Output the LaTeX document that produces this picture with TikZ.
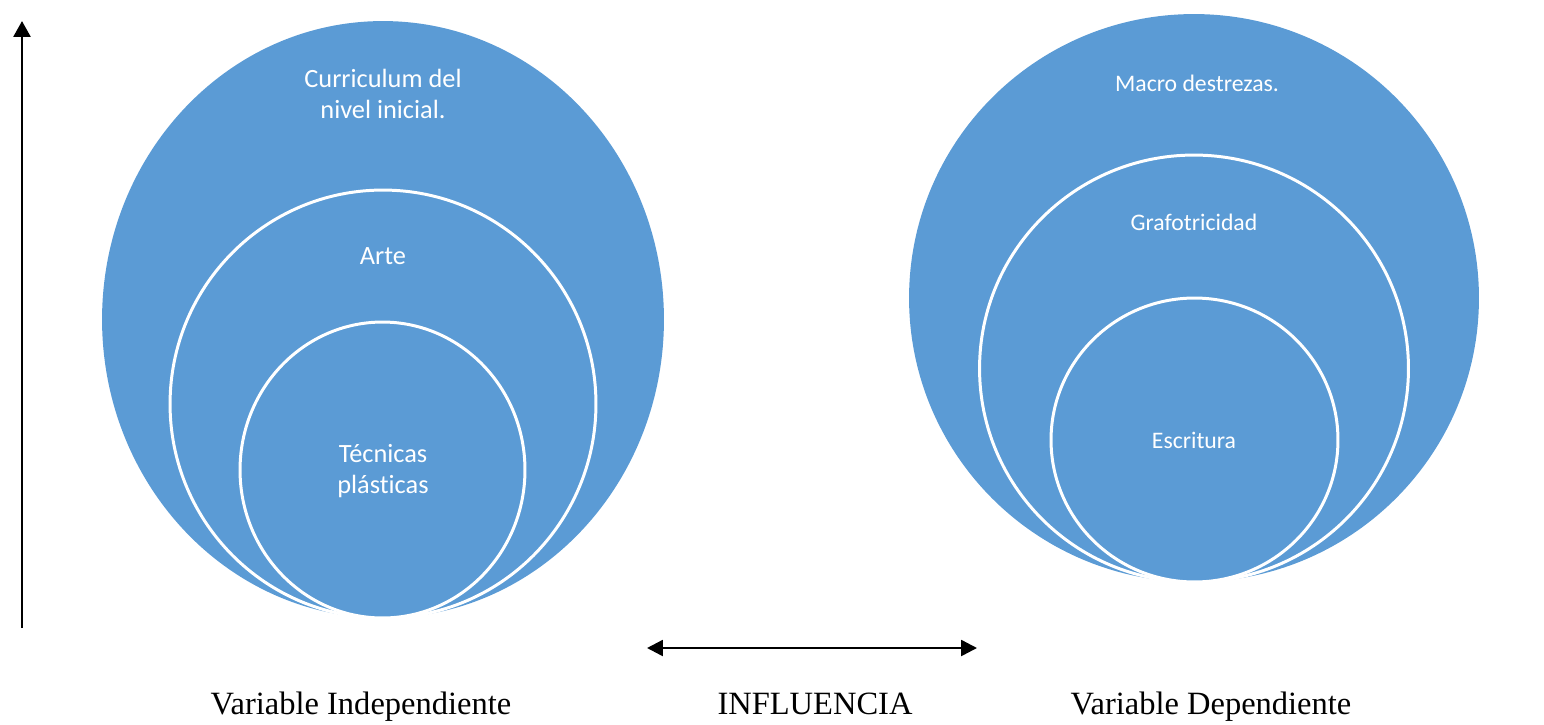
\documentclass[tikz,border=0pt]{standalone}
\usepackage{fontspec}
\setmainfont{Liberation Serif}
\newfontfamily\calibri[Ligatures=NoCommon]{Carlito}
\usetikzlibrary{shapes.geometric,arrows.meta,positioning}
\definecolor{ringblue}{HTML}{5B9BD5}
\tikzset{
  ring/.style={ellipse, fill=ringblue, draw=white, line width=1.7pt, inner sep=0pt},
  ringtextL/.style={text=white, font=\calibri\fontsize{15}{17.5}\selectfont, align=center},
  ringtextR/.style={text=white, font=\calibri\fontsize{13.5}{16}\selectfont, align=center},
  caption/.style={font=\fontsize{18.5}{21}\selectfont, anchor=base},
  axisarrow/.style={line width=1.7pt, -{Triangle[length=9pt,width=9.5pt]}},
  linkarrow/.style={line width=1.4pt, {Triangle[length=9pt,width=9pt]}-{Triangle[length=9pt,width=9pt]}},
}

\begin{document}
\begin{tikzpicture}[x=0.02cm,y=-0.02cm]
\useasboundingbox (0,0) rectangle (1544,724);

% left target
\node[ring, draw=none, minimum width=11.24cm, minimum height=11.94cm] (outerL) at (383,319.5) {};
\node[ring, minimum width=8.52cm, minimum height=8.56cm] (midL) at (383,404) {};
\node[ring, minimum width=5.7cm, minimum height=5.92cm] (innerL) at (382.5,470) {};
\node[ringtextL] (curriculum) at (383,94) {Curriculum del\\nivel inicial.};
\node[ringtextL] (arte) at (383,256) {Arte};
\node[ringtextL] (tecnicas) at (383,471) {Técnicas\\plásticas};

% right target
\node[ring, draw=none, minimum width=11.4cm, minimum height=11.36cm] (outerR) at (1194,298) {};
\node[ring, minimum width=8.58cm, minimum height=8.54cm] (midR) at (1194,368.5) {};
\node[ring, minimum width=5.74cm, minimum height=5.68cm] (innerR) at (1194.5,440) {};
\node[ringtextR] (macro) at (1197,83) {Macro destrezas.};
\node[ringtextR] (grafo) at (1194,222) {Grafotricidad};
\node[ringtextR] (escritura) at (1194,440) {Escritura};

% arrows
\coordinate (axisbot) at (22,628);
\coordinate (axistop) at (22,21);
\draw[axisarrow] (axisbot) -- (axistop);
\coordinate (linkL) at (647,648);
\coordinate (linkR) at (977,648);
\draw[linkarrow] (linkL) -- (linkR);

% captions
\node[caption] (indep) at (361,714) {Variable Independiente};
\node[caption] (influ) at (815,714) {INFLUENCIA};
\node[caption] (dep) at (1211,714) {Variable Dependiente};
\end{tikzpicture}
\end{document}
